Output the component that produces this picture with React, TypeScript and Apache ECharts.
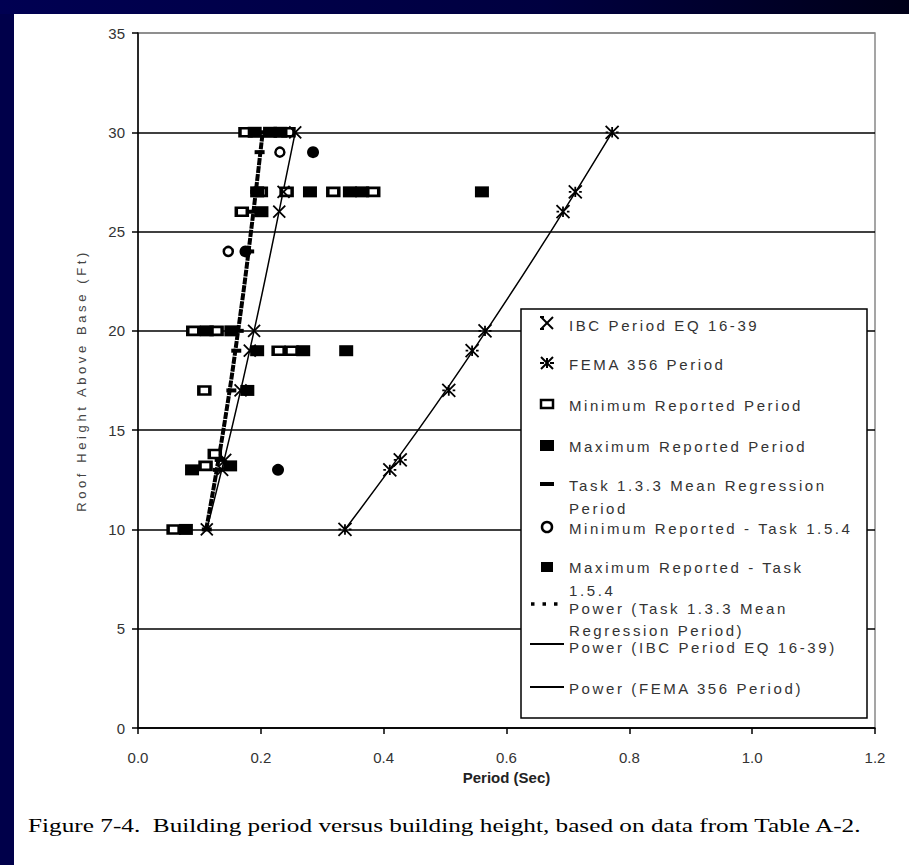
import React, { useEffect, useRef } from "react";
import * as echarts from "echarts";

// ---- data (period in sec, roof height in ft) ----
const xTicks = [0, 0.2, 0.4, 0.6, 0.8, 1.0, 1.2];
const yTicks = [0, 5, 10, 15, 20, 25, 30, 35];

const ibcPeriod = [
  [0.112, 10], [0.137, 13], [0.142, 13.5], [0.167, 17], [0.182, 19],
  [0.189, 20], [0.23, 26], [0.237, 27], [0.256, 30],
];
const femaPeriod = [
  [0.337, 10], [0.41, 13], [0.427, 13.5], [0.506, 17], [0.544, 19],
  [0.565, 20], [0.692, 26], [0.712, 27], [0.772, 30],
];
const minReportedPeriod = [
  [0.058, 10], [0.11, 13.2], [0.125, 13.8], [0.108, 17], [0.09, 20], [0.128, 20],
  [0.229, 19], [0.25, 19], [0.169, 26], [0.2, 27], [0.242, 27], [0.318, 27],
  [0.383, 27], [0.175, 30], [0.245, 30],
];
const maxReportedPeriod = [
  [0.078, 10], [0.088, 13], [0.15, 13.2], [0.178, 17], [0.112, 20], [0.152, 20],
  [0.194, 19], [0.269, 19], [0.339, 19], [0.201, 26], [0.194, 27], [0.28, 27],
  [0.345, 27], [0.365, 27], [0.56, 27], [0.19, 30], [0.215, 30], [0.232, 30],
];
const meanRegressionPeriod = [
  [0.112, 10], [0.13, 13], [0.133, 13.5], [0.152, 17], [0.16, 19], [0.164, 20],
  [0.181, 24], [0.188, 26], [0.191, 27], [0.198, 29], [0.201, 30],
];
const minReportedTask154 = [[0.147, 24], [0.231, 29]];
const maxReportedTask154 = [[0.175, 24], [0.285, 29], [0.228, 13]];
const powerMeanTrend = [[0.111, 10], [0.139, 15], [0.163, 20], [0.184, 25], [0.203, 30]];
const powerIbcTrend = [[0.112, 10], [0.152, 15], [0.189, 20], [0.223, 25], [0.256, 30]];
const powerFemaTrend = [[0.337, 10], [0.456, 15], [0.567, 20], [0.672, 25], [0.772, 30]];

const legendLabels = [
  "IBC Period EQ 16-39",
  "FEMA 356 Period",
  "Minimum Reported Period",
  "Maximum Reported Period",
  "Task 1.3.3 Mean Regression",
  "Period",
  "Minimum Reported - Task 1.5.4",
  "Maximum Reported - Task",
  "1.5.4",
  "Power (Task 1.3.3 Mean",
  "Regression Period)",
  "Power (IBC Period EQ 16-39)",
  "Power (FEMA 356 Period)",
];
const captionText = "Figure 7-4.  Building period versus building height, based on data from Table A-2.";
const yAxisTitle = "Roof Height Above Base (Ft)";
const xAxisTitle = "Period (Sec)";

const xSymbol = "path://M0 0L10 10M10 0L0 10";
const femaSymbol = "path://M0 0L10 10M10 0L0 10M5 1L5 9M0 5L2 5M8 5L10 5";

export default function App() {
  const ref = useRef<HTMLDivElement>(null);

  useEffect(() => {
    document.body.style.margin = "0";
    const chart = echarts.init(ref.current!, null, { renderer: "svg" });
    const navy = "#00004a";
    const sansFamily = "'Liberation Sans', Arial, sans-serif";
    const legFont = "15px " + sansFamily;
    const lx = 569;
    const sx = 547;
    const ltxt = (t: string, y: number) => ({
      type: "text",
      x: lx,
      y,
      style: { text: t, font: legFont, fill: "#333", textVerticalAlign: "middle" },
      z: 20,
    });
    const xMark = (cx: number, cy: number, fema: boolean) => {
      const s = 6;
      const st = { stroke: "#000", lineWidth: 2 };
      const els: any[] = [
        { type: "line", shape: { x1: cx - s, y1: cy - s, x2: cx + s, y2: cy + s }, style: st, z: 20 },
        { type: "line", shape: { x1: cx + s, y1: cy - s, x2: cx - s, y2: cy + s }, style: st, z: 20 },
      ];
      if (fema) {
        els.push({ type: "line", shape: { x1: cx, y1: cy - s + 1, x2: cx, y2: cy + s - 1 }, style: st, z: 20 });
        els.push({ type: "line", shape: { x1: cx - s - 1, y1: cy, x2: cx - s + 3, y2: cy }, style: st, z: 20 });
        els.push({ type: "line", shape: { x1: cx + s - 3, y1: cy, x2: cx + s + 1, y2: cy }, style: st, z: 20 });
      } else {
        els.push({ type: "line", shape: { x1: cx - s - 1, y1: cy - s, x2: cx - s + 3, y2: cy - s }, style: st, z: 20 });
        els.push({ type: "line", shape: { x1: cx - s - 1, y1: cy + s, x2: cx - s + 3, y2: cy + s }, style: st, z: 20 });
      }
      return els;
    };

    const graphic: any[] = [
      { type: "rect", shape: { x: 0, y: 0, width: 14, height: 865 }, style: { fill: navy }, z: 0 },
      {
        type: "rect",
        shape: { x: 0, y: 0, width: 909, height: 14 },
        style: {
          fill: new echarts.graphic.LinearGradient(0, 0, 1, 0, [
            { offset: 0, color: "#000052" },
            { offset: 0.6, color: "#000040" },
            { offset: 1, color: "#000018" },
          ]),
        },
        z: 0,
      },
      // legend box
      { type: "rect", shape: { x: 521, y: 309, width: 346, height: 409 }, style: { fill: "#fff", stroke: "#000", lineWidth: 1.5 }, z: 19 },
      ...xMark(sx, 323, false),
      ...xMark(sx, 363, true),
      { type: "rect", shape: { x: sx - 6, y: 400, width: 12, height: 8 }, style: { fill: "#fff", stroke: "#000", lineWidth: 2.5 }, z: 20 },
      { type: "rect", shape: { x: sx - 7, y: 440, width: 14, height: 11 }, style: { fill: "#000" }, z: 20 },
      { type: "rect", shape: { x: sx - 7, y: 482, width: 14, height: 4 }, style: { fill: "#000" }, z: 20 },
      { type: "circle", shape: { cx: sx, cy: 527, r: 5 }, style: { fill: "#fff", stroke: "#000", lineWidth: 2.5 }, z: 20 },
      { type: "rect", shape: { x: sx - 6, y: 562, width: 12, height: 10 }, style: { fill: "#000" }, z: 20 },
      { type: "line", shape: { x1: 531, y1: 604, x2: 564, y2: 604 }, style: { stroke: "#000", lineWidth: 3.5, lineDash: [3.5, 8] }, z: 20 },
      { type: "line", shape: { x1: 530, y1: 644, x2: 564, y2: 644 }, style: { stroke: "#000", lineWidth: 2 }, z: 20 },
      { type: "line", shape: { x1: 530, y1: 687, x2: 564, y2: 687 }, style: { stroke: "#000", lineWidth: 2 }, z: 20 },
      ltxt(legendLabels[0], 325),
      ltxt(legendLabels[1], 364),
      ltxt(legendLabels[2], 405),
      ltxt(legendLabels[3], 446),
      ltxt(legendLabels[4], 485),
      ltxt(legendLabels[5], 508),
      ltxt(legendLabels[6], 528),
      ltxt(legendLabels[7], 567),
      ltxt(legendLabels[8], 590),
      ltxt(legendLabels[9], 608),
      ltxt(legendLabels[10], 630),
      ltxt(legendLabels[11], 647),
      ltxt(legendLabels[12], 688),
      {
        type: "text",
        x: 28,
        y: 826,
        scaleX: 1.33,
        style: {
          text: captionText,
          font: "19px 'Liberation Serif', 'Times New Roman', serif",
          fill: "#000",
          textVerticalAlign: "middle",
        },
        z: 20,
      },
    ];

    const scatterBase = { type: "scatter", xAxisIndex: 0, yAxisIndex: 0, z: 5 };

    chart.setOption({
      animation: false,
      backgroundColor: "#fff",
      grid: { left: 138, top: 33, width: 737, height: 695, show: true, borderColor: "#888", borderWidth: 1.5, backgroundColor: "transparent" },
      xAxis: {
        type: "value",
        min: xTicks[0],
        max: xTicks[xTicks.length - 1],
        interval: 0.2,
        name: xAxisTitle,
        nameLocation: "middle",
        nameGap: 40,
        nameTextStyle: { fontFamily: sansFamily, fontSize: 15, fontWeight: "bold", color: "#222" },
        axisLine: { lineStyle: { color: "#000", width: 1.5 } },
        axisTick: { show: true, inside: false, length: 6, lineStyle: { color: "#000", width: 1.5 } },
        axisLabel: { formatter: (v: number) => v.toFixed(1), color: "#333", fontSize: 15, margin: 22, fontFamily: sansFamily },
        splitLine: { show: false },
      },
      yAxis: {
        type: "value",
        min: yTicks[0],
        max: yTicks[yTicks.length - 1],
        interval: 5,
        name: yAxisTitle,
        nameLocation: "middle",
        nameGap: 50,
        nameTextStyle: { fontFamily: sansFamily, fontSize: 13, color: "#444" },
        axisLine: { show: true, lineStyle: { color: "#000", width: 1.5 } },
        axisTick: { show: true, inside: false, length: 6, lineStyle: { color: "#000", width: 1.5 } },
        axisLabel: { color: "#333", fontSize: 15, margin: 13, fontFamily: sansFamily },
        splitLine: { show: true, lineStyle: { color: ["#000", "#000", "#000", "#000", "#000", "#000", "#000", "#888"], width: 1.5 } },
      },
      graphic,
      series: [
        {
          name: "Power (Task 1.3.3 Mean Regression Period)",
          type: "line",
          data: powerMeanTrend,
          showSymbol: false,
          smooth: true,
          lineStyle: { color: "#000", width: 4, type: [7, 1] },
          z: 3,
        },
        {
          name: "Power (IBC Period EQ 16-39)",
          type: "line",
          data: powerIbcTrend,
          showSymbol: false,
          smooth: true,
          lineStyle: { color: "#000", width: 1.5 },
          z: 3,
        },
        {
          name: "Power (FEMA 356 Period)",
          type: "line",
          data: powerFemaTrend,
          showSymbol: false,
          smooth: true,
          lineStyle: { color: "#000", width: 1.5 },
          z: 3,
        },
        {
          ...scatterBase,
          name: "Minimum Reported Period",
          data: minReportedPeriod,
          symbol: "rect",
          symbolSize: [11, 8],
          itemStyle: { color: "#fff", borderColor: "#000", borderWidth: 3, opacity: 1 },
        },
        {
          ...scatterBase,
          name: "Maximum Reported Period",
          data: maxReportedPeriod,
          symbol: "rect",
          symbolSize: [14, 11],
          itemStyle: { color: "#000", opacity: 1 },
        },
        {
          ...scatterBase,
          name: "Task 1.3.3 Mean Regression Period",
          data: meanRegressionPeriod,
          symbol: "rect",
          symbolSize: [10, 4],
          itemStyle: { color: "#000", opacity: 1 },
        },
        {
          ...scatterBase,
          name: "Minimum Reported - Task 1.5.4",
          data: minReportedTask154,
          symbol: "circle",
          symbolSize: 9,
          itemStyle: { color: "#fff", borderColor: "#000", borderWidth: 2.5, opacity: 1 },
        },
        {
          ...scatterBase,
          name: "Maximum Reported - Task 1.5.4",
          data: maxReportedTask154,
          symbol: "circle",
          symbolSize: 12,
          itemStyle: { color: "#000", opacity: 1 },
        },
        {
          ...scatterBase,
          name: "IBC Period EQ 16-39",
          data: ibcPeriod,
          symbol: xSymbol,
          symbolSize: 12,
          itemStyle: { color: "#000", borderColor: "#000", borderWidth: 1.8, opacity: 1 },
        },
        {
          ...scatterBase,
          name: "FEMA 356 Period",
          data: femaPeriod,
          symbol: femaSymbol,
          symbolSize: 13,
          itemStyle: { color: "#000", borderColor: "#000", borderWidth: 1.8, opacity: 1 },
        },
      ],
    });

    const spacing: Record<string, string> = {};
    legendLabels.forEach((l) => (spacing[l] = "2.6px"));
    spacing[yAxisTitle] = "3.6px";
    const applySpacing = () => {
      const texts = ref.current?.querySelectorAll("text") || [];
      texts.forEach((t) => {
        const s = spacing[(t.textContent || "").trim()];
        if (s) t.setAttribute("letter-spacing", s);
      });
    };
    chart.on("rendered", applySpacing);
    applySpacing();

    return () => {
      chart.dispose();
    };
  }, []);

  return <div ref={ref} style={{ width: 909, height: 865 }} />;
}
